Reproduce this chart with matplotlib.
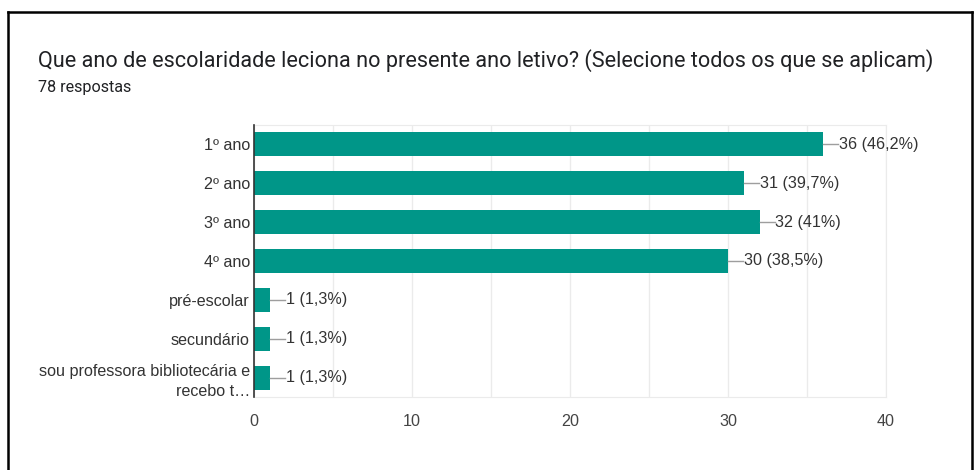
import matplotlib
matplotlib.use("Agg")
import matplotlib.pyplot as plt

plt.rcParams['font.family'] = ['Liberation Sans', 'DejaVu Sans']

categories = ["1º ano", "2º ano", "3º ano", "4º ano", "pré-escolar", "secundário",
              "sou professora bibliotecária e\nrecebo t…"]
values = [36, 31, 32, 30, 1, 1, 1]
labels = ["36 (46,2%)", "31 (39,7%)", "32 (41%)", "30 (38,5%)", "1 (1,3%)", "1 (1,3%)", "1 (1,3%)"]
xticks = [0, 10, 20, 30, 40]

fig = plt.figure(figsize=(9.76, 4.70), dpi=100)
fig.patch.set_facecolor('white')

W, H = 976, 470
fx = lambda px: px / W
fy = lambda py: 1 - py / H
fig.add_artist(plt.Line2D([fx(8), fx(8)], [0, fy(12)], color='black', lw=1.8))
fig.add_artist(plt.Line2D([fx(8), fx(972)], [fy(12), fy(12)], color='black', lw=1.8))
fig.add_artist(plt.Line2D([fx(972), fx(972)], [fy(12), 0], color='black', lw=1.8))

fig.text(fx(38), fy(61), "Que ano de escolaridade leciona no presente ano letivo? (Selecione todos os que se aplicam)",
         fontsize=15.6, color='#202124', va='center', ha='left', family=['Roboto', 'DejaVu Sans'])
fig.text(fx(38), fy(87.5), "78 respostas", fontsize=11.6, color='#202124', va='center', ha='left',
         family=['Roboto', 'DejaVu Sans'])

ax = fig.add_axes([fx(254), fy(397), fx(886) - fx(254), fy(125) - fy(397)])
y = list(range(len(categories)))
ax.barh(y, values, height=0.62, color='#009688', zorder=3)
ax.set_ylim(len(categories) - 0.5, -0.5)
ax.set_xlim(0, 40)

for i, (v, lab) in enumerate(zip(values, labels)):
    ax.plot([v, v + 0.95], [i, i], color='#9e9e9e', lw=1, zorder=3, clip_on=False)
    ax.text(v + 1.0, i, lab, va='center', ha='left', fontsize=11.6, color='#333333')

ax.set_xticks(xticks)
ax.set_xticks([5, 15, 25, 35], minor=True)
ax.set_xticklabels([str(t) for t in xticks], fontsize=11.6, color='#444444')
ax.set_yticks(y)
ax.set_yticklabels(categories, fontsize=11.6, color='#333333', linespacing=1.4)
ax.tick_params(axis='both', which='both', length=0)
ax.tick_params(axis='x', pad=12)
ax.tick_params(axis='y', pad=3)
ax.grid(axis='x', which='both', color='#ebebeb', lw=1, zorder=0)
for s in ['top', 'bottom', 'right']:
    ax.spines[s].set_color('#ebebeb')
ax.spines['left'].set_color('#333333')
ax.spines['left'].set_linewidth(1.2)
ax.spines['left'].set_zorder(4)

fig.savefig("out.png", dpi=100, facecolor='white')
